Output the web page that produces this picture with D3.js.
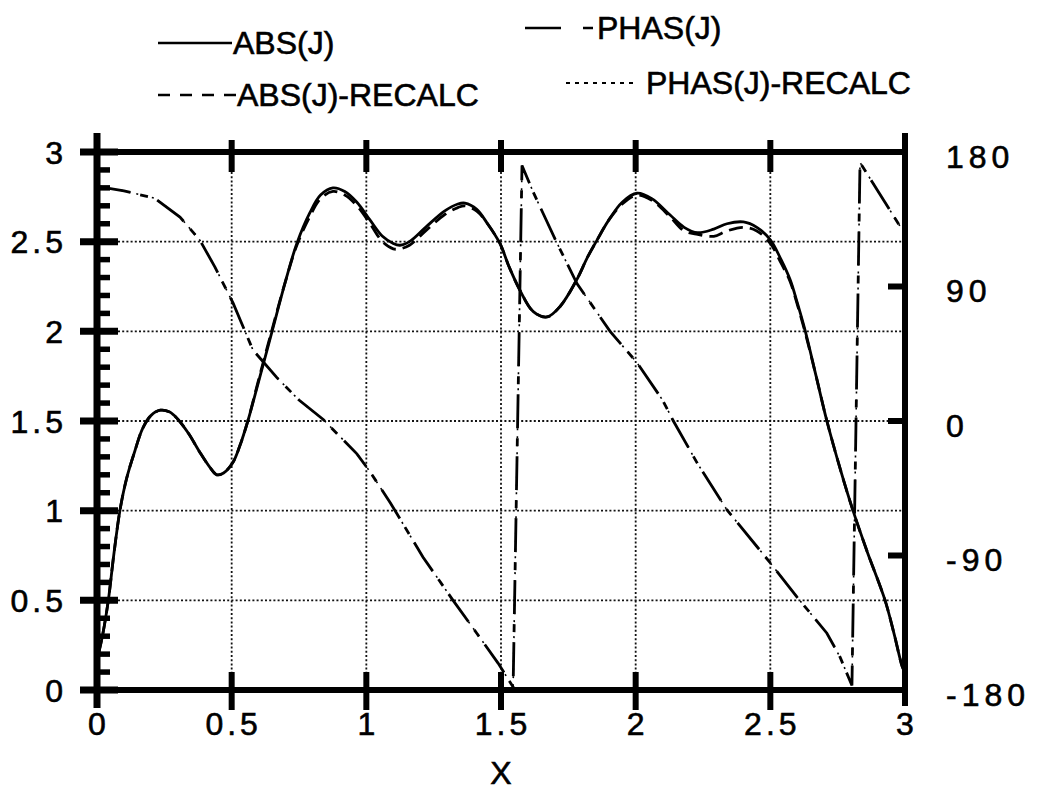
<!DOCTYPE html>
<html>
<head>
<meta charset="utf-8">
<script src="https://cdn.jsdelivr.net/npm/d3@7"></script>
<style>
  body { margin: 0; background: #fff; }
  svg { display: block; }
  text { font-family: "Liberation Sans", Arial, Helvetica, sans-serif; fill: #000; stroke: #000; stroke-width: 0.6px; }
</style>
</head>
<body>
<div id="chart"></div>
<script>
// x positions / values
const xTicks = [0, 0.5, 1, 1.5, 2, 2.5, 3];
const xTickLabels = ['0', '0.5', '1', '1.5', '2', '2.5', '3'];
const yTicks = [0, 0.5, 1, 1.5, 2, 2.5, 3];
const yTickLabels = ['0', '0.5', '1', '1.5', '2', '2.5', '3'];
const phaseTicks = [-180, -90, 0, 90, 180];
const phaseTickLabels = ['-180', '-90', '0', '90', '180'];

// [x, |J|]
const absJ = [
  [0.005, 0.2], [0.02, 0.3], [0.042, 0.5], [0.062, 0.75], [0.085, 1.0], [0.11, 1.18],
  [0.14, 1.33], [0.17, 1.46], [0.2, 1.53], [0.235, 1.56], [0.27, 1.55], [0.3, 1.51],
  [0.34, 1.43], [0.38, 1.33], [0.42, 1.24], [0.445, 1.2], [0.47, 1.21], [0.505, 1.27],
  [0.53, 1.36], [0.56, 1.5], [0.6, 1.72], [0.65, 2.0], [0.7, 2.28], [0.742, 2.49],
  [0.79, 2.66], [0.83, 2.76], [0.876, 2.8], [0.92, 2.78], [0.965, 2.72], [1.014, 2.62],
  [1.06, 2.53], [1.1, 2.49], [1.125, 2.48], [1.16, 2.5], [1.22, 2.58], [1.29, 2.67],
  [1.34, 2.71], [1.366, 2.715], [1.41, 2.68], [1.45, 2.6], [1.496, 2.49], [1.53, 2.36],
  [1.57, 2.23], [1.62, 2.11], [1.671, 2.08], [1.72, 2.14], [1.782, 2.29], [1.82, 2.41],
  [1.857, 2.51], [1.9, 2.62], [1.95, 2.72], [2.005, 2.77], [2.06, 2.74], [2.127, 2.65],
  [2.18, 2.58], [2.23, 2.55], [2.29, 2.57], [2.339, 2.6], [2.4, 2.61], [2.45, 2.58],
  [2.5, 2.51], [2.54, 2.4], [2.573, 2.29], [2.6, 2.16], [2.63, 2.0], [2.67, 1.75],
  [2.71, 1.5], [2.76, 1.23], [2.807, 1.0], [2.86, 0.77], [2.926, 0.5], [2.96, 0.31],
  [2.99, 0.13], [3.0, 0.1]
];

const absRecalc = [
  [0.005, 0.2], [0.02, 0.3], [0.042, 0.5], [0.062, 0.75], [0.085, 1.0], [0.11, 1.18],
  [0.14, 1.33], [0.17, 1.46], [0.2, 1.53], [0.235, 1.56], [0.27, 1.55], [0.3, 1.51],
  [0.34, 1.43], [0.38, 1.33], [0.42, 1.24], [0.445, 1.2], [0.47, 1.21], [0.505, 1.27],
  [0.53, 1.36], [0.56, 1.5], [0.6, 1.73], [0.65, 2.01], [0.7, 2.28], [0.742, 2.48],
  [0.79, 2.64], [0.83, 2.74], [0.876, 2.78], [0.92, 2.76], [0.965, 2.7], [1.014, 2.6],
  [1.06, 2.5], [1.1, 2.46], [1.125, 2.46], [1.16, 2.48], [1.22, 2.56], [1.29, 2.65],
  [1.34, 2.69], [1.366, 2.7], [1.41, 2.67], [1.45, 2.6], [1.496, 2.49], [1.53, 2.36],
  [1.57, 2.23], [1.62, 2.11], [1.671, 2.08], [1.72, 2.14], [1.782, 2.29], [1.82, 2.41],
  [1.857, 2.51], [1.9, 2.62], [1.95, 2.71], [2.005, 2.76], [2.06, 2.73], [2.127, 2.64],
  [2.18, 2.56], [2.23, 2.54], [2.29, 2.53], [2.339, 2.56], [2.4, 2.58], [2.45, 2.56],
  [2.5, 2.49], [2.54, 2.38], [2.573, 2.28], [2.6, 2.15], [2.63, 1.99], [2.67, 1.75],
  [2.71, 1.5], [2.76, 1.23], [2.807, 1.0], [2.86, 0.77], [2.926, 0.5], [2.96, 0.31],
  [2.99, 0.13], [3.0, 0.1]
];

// [x, phase in degrees] (right axis)
const phasJ = [
  [0, 157], [0.1, 154], [0.215, 149], [0.308, 136.5], [0.382, 121], [0.438, 103],
  [0.505, 79], [0.579, 47.5], [0.668, 29], [0.75, 14], [0.84, 1], [0.965, -22],
  [1.014, -34], [1.09, -55], [1.21, -91], [1.322, -120], [1.41, -142], [1.489, -162],
  [1.545, -178], [1.578, 171], [1.62, 153], [1.708, 119], [1.782, 92], [1.905, 60],
  [2.005, 39], [2.1, 14], [2.14, 0], [2.228, -28], [2.339, -59.5], [2.5, -95],
  [2.6, -118], [2.71, -142], [2.759, -158], [2.803, -177], [2.833, 173], [3.0, 125]
];

const phasRecalc = [
  [0, 157], [0.1, 154], [0.215, 149], [0.308, 136.5], [0.382, 121], [0.438, 103],
  [0.505, 79], [0.579, 47.5], [0.668, 29], [0.75, 14], [0.84, 1], [0.965, -22],
  [1.014, -34], [1.09, -55], [1.21, -91], [1.322, -120], [1.41, -142], [1.489, -162],
  [1.545, -178], [1.578, 171], [1.62, 153], [1.708, 119], [1.782, 92], [1.905, 60],
  [2.005, 39], [2.1, 14], [2.14, 0], [2.228, -28], [2.339, -59.5], [2.5, -95],
  [2.6, -118], [2.71, -142], [2.759, -158], [2.803, -177], [2.833, 173], [3.0, 125]
];

const width = 1037;
const height = 792;
const plotLeft = 97, plotRight = 905, plotTop = 152, plotBottom = 690;

const svg = d3.select('#chart').append('svg')
  .attr('width', width)
  .attr('height', height);

const x = d3.scaleLinear().domain([0, 3]).range([plotLeft, plotRight]);
const y = d3.scaleLinear().domain([0, 3]).range([plotBottom, plotTop]);
const yPhase = d3.scaleLinear().domain([-180, 180]).range([plotBottom, plotTop]);

// grid
const grid = svg.append('g')
  .attr('stroke', '#111')
  .attr('stroke-width', 1.8)
  .attr('stroke-dasharray', '2,2.2');

grid.selectAll('.vgrid')
  .data(xTicks.slice(1, -1))
  .enter().append('line')
  .attr('x1', d => x(d)).attr('x2', d => x(d))
  .attr('y1', plotTop + 20).attr('y2', plotBottom - 18);

grid.selectAll('.hgrid')
  .data(yTicks.slice(1, -1))
  .enter().append('line')
  .attr('x1', plotLeft + 21).attr('x2', plotRight)
  .attr('y1', d => y(d)).attr('y2', d => y(d));

// curves
svg.append('clipPath').attr('id', 'plot-clip')
  .append('rect')
  .attr('x', plotLeft).attr('y', plotTop - 4)
  .attr('width', plotRight - plotLeft).attr('height', plotBottom - plotTop + 8);

const plot = svg.append('g').attr('clip-path', 'url(#plot-clip)')
  .attr('fill', 'none').attr('stroke', '#000');

const absLine = d3.line()
  .x(d => x(d[0]))
  .y(d => y(d[1]))
  .curve(d3.curveCatmullRom.alpha(0.5));

const phaseLine = d3.line()
  .x(d => x(d[0]))
  .y(d => yPhase(d[1]));

plot.append('path').datum(absRecalc)
  .attr('d', absLine)
  .attr('stroke-width', 2.8)
  .attr('stroke-dasharray', '14,7');

plot.append('path').datum(absJ)
  .attr('d', absLine)
  .attr('stroke-width', 2.8);

plot.append('path').datum(phasRecalc)
  .attr('d', phaseLine)
  .attr('stroke-width', 1.6)
  .attr('stroke-dasharray', '2,6');

plot.append('path').datum(phasJ)
  .attr('d', phaseLine)
  .attr('stroke-width', 2.8)
  .attr('stroke-dasharray', '34,10,8,10');

// frame and ticks
const frame = svg.append('g').attr('stroke', '#000');

frame.append('line')
  .attr('x1', plotLeft - 17).attr('x2', plotRight)
  .attr('y1', plotTop).attr('y2', plotTop)
  .attr('stroke-width', 6);
frame.append('line')
  .attr('x1', plotLeft - 17).attr('x2', plotRight)
  .attr('y1', plotBottom).attr('y2', plotBottom)
  .attr('stroke-width', 6);
frame.append('line')
  .attr('x1', plotLeft).attr('x2', plotLeft)
  .attr('y1', plotTop - 19).attr('y2', plotBottom + 18)
  .attr('stroke-width', 7);
frame.append('line')
  .attr('x1', plotRight).attr('x2', plotRight)
  .attr('y1', plotTop - 19).attr('y2', plotBottom + 16)
  .attr('stroke-width', 6);

// left major ticks (both sides of axis)
frame.selectAll('.ymajor')
  .data(yTicks)
  .enter().append('line')
  .attr('x1', plotLeft - 17).attr('x2', plotLeft + 21)
  .attr('y1', d => y(d)).attr('y2', d => y(d))
  .attr('stroke-width', 7);

// left minor ticks every 0.1
const minor = d3.range(0, 31).map(i => i / 10).filter(v => Math.round(v * 10) % 5 !== 0);
frame.selectAll('.yminor')
  .data(minor)
  .enter().append('line')
  .attr('x1', plotLeft).attr('x2', plotLeft + 13)
  .attr('y1', d => y(d)).attr('y2', d => y(d))
  .attr('stroke-width', 5.5);

// top and bottom ticks
frame.selectAll('.xtop')
  .data(xTicks.slice(1, -1))
  .enter().append('line')
  .attr('x1', d => x(d)).attr('x2', d => x(d))
  .attr('y1', plotTop - 12).attr('y2', plotTop + 20)
  .attr('stroke-width', 6);
frame.selectAll('.xbottom')
  .data(xTicks.slice(1, -1))
  .enter().append('line')
  .attr('x1', d => x(d)).attr('x2', d => x(d))
  .attr('y1', plotBottom - 18).attr('y2', plotBottom + 20)
  .attr('stroke-width', 6);

// right phase ticks
frame.selectAll('.ptick')
  .data(phaseTicks.slice(1, -1))
  .enter().append('line')
  .attr('x1', plotRight - 17).attr('x2', plotRight)
  .attr('y1', d => yPhase(d)).attr('y2', d => yPhase(d))
  .attr('stroke-width', 6);

// tick labels
const labels = svg.append('g').attr('font-size', 32);

labels.selectAll('.ylab')
  .data(yTicks)
  .enter().append('text')
  .attr('x', 67)
  .attr('y', d => y(d))
  .attr('dy', '0.36em')
  .attr('text-anchor', 'end')
  .attr('letter-spacing', 4)
  .text((d, i) => yTickLabels[i]);

labels.selectAll('.xlab')
  .data(xTicks)
  .enter().append('text')
  .attr('x', d => x(d) + 2)
  .attr('y', 735)
  .attr('text-anchor', 'middle')
  .attr('letter-spacing', 4)
  .text((d, i) => xTickLabels[i]);

labels.selectAll('.plab')
  .data(phaseTicks)
  .enter().append('text')
  .attr('x', 946)
  .attr('y', d => yPhase(d) + 4)
  .attr('dy', '0.36em')
  .attr('letter-spacing', 5)
  .text((d, i) => phaseTickLabels[i]);

labels.append('text')
  .attr('x', x(1.5))
  .attr('y', 784)
  .attr('text-anchor', 'middle')
  .text('X');

// legend
const legend = svg.append('g');
const legendItems = [
  { label: 'ABS(J)', x1: 158, x2: 232, ly: 43, tx: 233, ty: 54, dash: null, w: 2.4 },
  { label: 'ABS(J)-RECALC', x1: 158, x2: 236, ly: 95, tx: 237, ty: 106, dash: '12,10', w: 2.4 },
  { label: 'PHAS(J)', x1: 525, x2: 594, ly: 28, tx: 597, ty: 39, dash: '36,22,10,100', w: 2.4 },
  { label: 'PHAS(J)-RECALC', x1: 566, x2: 636, ly: 83, tx: 646, ty: 94, dash: '4,5', w: 2 }
];

legendItems.forEach(item => {
  legend.append('line')
    .attr('x1', item.x1).attr('x2', item.x2)
    .attr('y1', item.ly).attr('y2', item.ly)
    .attr('stroke', '#000')
    .attr('stroke-width', item.w)
    .attr('stroke-dasharray', item.dash);
  legend.append('text')
    .attr('x', item.tx)
    .attr('y', item.ty)
    .attr('font-size', 32)
    .text(item.label);
});
</script>
</body>
</html>
